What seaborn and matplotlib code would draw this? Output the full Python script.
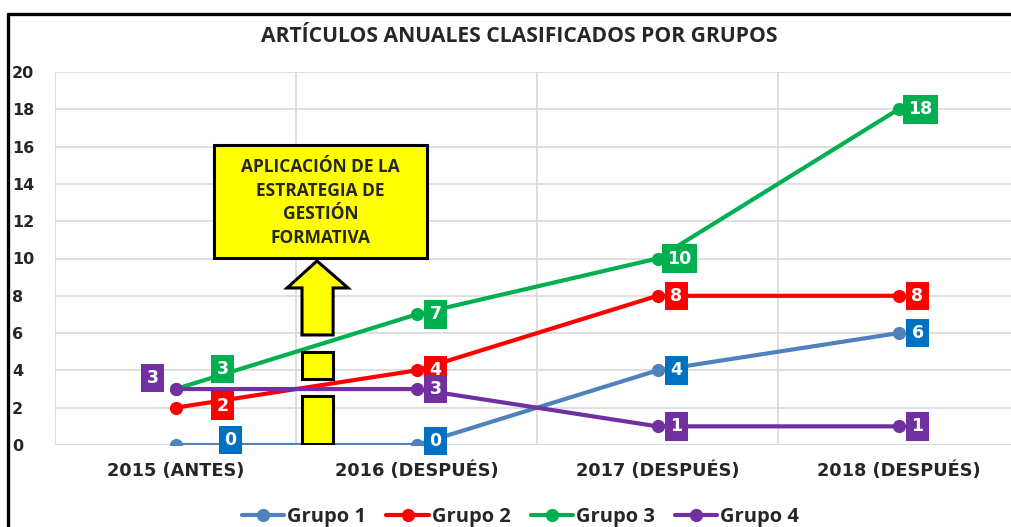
import numpy as np
import pandas as pd
import matplotlib.pyplot as plt
from matplotlib.patches import Rectangle, Polygon
from matplotlib.lines import Line2D
import seaborn as sns

# data
years = ['2015 (ANTES)', '2016 (DESPUÉS)', '2017 (DESPUÉS)', '2018 (DESPUÉS)']
grupo1 = [0, 0, 4, 6]
grupo2 = [2, 4, 8, 8]
grupo3 = [3, 7, 10, 18]
grupo4 = [3, 3, 1, 1]
groups = ['Grupo 1', 'Grupo 2', 'Grupo 3', 'Grupo 4']
line_colors = ['#4F81BD', '#FF0000', '#00B050', '#7030A0']
label_colors = ['#0070C0', '#FF0000', '#00B050', '#7030A0']

df = pd.DataFrame({'year': years * 4,
                   'valor': grupo1 + grupo2 + grupo3 + grupo4,
                   'grupo': np.repeat(groups, 4)})

sns.set_style('white')
plt.rcParams['font.family'] = ['DejaVu Sans']
narrow = ['Open Sans', 'DejaVu Sans']

fig = plt.figure(figsize=(10.11, 5.27), dpi=100)
ax = fig.add_axes([55/1011, 82/527, 964/1011, 373/527])

sns.lineplot(data=df, x='year', y='valor', hue='grupo', palette=line_colors,
             marker='o', markersize=9.5, markeredgewidth=0, linewidth=3,
             sort=False, ax=ax, legend=True)

ax.set_xlim(-0.5, 3.5)
ax.set_ylim(0, 20)
ax.set_yticks(range(0, 21, 2))
ax.set_xticks(range(4))
ax.set_xticklabels(years, fontsize=12.8, fontweight='bold')
ax.set_xticks([-0.5, 0.5, 1.5, 2.5], minor=True)
ax.tick_params(axis='x', which='both', length=0, pad=12)
ax.tick_params(axis='y', length=0, pad=31)
for t in ax.get_yticklabels():
    t.set_fontweight('bold')
    t.set_fontsize(11.5)
    t.set_horizontalalignment('left')
ax.set_xlabel('')
ax.set_ylabel('')
ax.grid(axis='y', color='#D9D9D9', linewidth=1.2)
ax.grid(axis='x', which='minor', color='#D9D9D9', linewidth=1.2)
ax.grid(axis='x', which='major', visible=False)
for s in ax.spines.values():
    s.set_visible(False)
ax.axhline(0, color='#D9D9D9', linewidth=1.2, zorder=0)

# value labels (offsets in pixels)
all_vals = [grupo1, grupo2, grupo3, grupo4]
offsets = {(0, 0): (55, 5), (1, 0): (47, 2), (2, 0): (47, 20), (3, 0): (-23, 11),
           (0, 1): (19, 4)}
for gi, vals in enumerate(all_vals):
    for xi, v in enumerate(vals):
        dx, dy = offsets.get((gi, xi), (19 if v < 10 else 22, 0))
        ax.annotate(str(v), (xi, v), xytext=(dx, dy), textcoords='offset pixels',
                    ha='center', va='center', color='white', fontsize=12.5,
                    fontweight='bold', zorder=5,
                    bbox=dict(boxstyle='square,pad=0.3', fc=label_colors[gi],
                              ec='none'))

# yellow annotation box
ax.add_patch(Rectangle((0.16, 10.05), 0.884, 6.04, fc='#FFFF00', ec='black',
                       lw=2.2, zorder=4))
ax.text(0.602, 13.0, 'APLICACIÓN DE LA\nESTRATEGIA DE\nGESTIÓN\nFORMATIVA',
        ha='center', va='center', fontsize=12.5, fontweight='bold', family=narrow,
        linespacing=1.42, zorder=5)
ax.add_patch(Polygon([(0.587, 9.87), (0.716, 8.42), (0.654, 8.42), (0.654, 5.9),
                      (0.525, 5.9), (0.525, 8.42), (0.463, 8.42)],
                     closed=True, fc='#FFFF00', ec='black', lw=2.2, zorder=4))
ax.add_patch(Rectangle((0.525, 3.54), 0.129, 1.45, fc='#FFFF00', ec='black',
                       lw=2.2, zorder=4))
ax.add_patch(Rectangle((0.525, 0.05), 0.129, 2.58, fc='#FFFF00', ec='black',
                       lw=2.2, zorder=4))

# title
fig.text(0.514, 1 - 37/527, 'ARTÍCULOS ANUALES CLASIFICADOS POR GRUPOS',
         ha='center', va='center', fontsize=15.2, fontweight='bold', family=narrow)

# legend
handles, labels = ax.get_legend_handles_labels()
ax.legend_.remove()
fig.legend(handles, labels, loc='center', bbox_to_anchor=(0.515, 1 - 517/527),
           ncol=4, frameon=False,
           prop={'weight': 'bold', 'size': 14.5, 'family': narrow},
           handlelength=2.1, handletextpad=0.15, columnspacing=1.0)

# chart frame (left and top edges)
fig.add_artist(Line2D([8/1011, 8/1011], [0, 1 - 14/527], transform=fig.transFigure,
                      color='black', lw=2.4))
fig.add_artist(Line2D([8/1011, 1.0], [1 - 14/527, 1 - 14/527],
                      transform=fig.transFigure, color='black', lw=2.4))

fig.savefig('out.png', dpi=100)
